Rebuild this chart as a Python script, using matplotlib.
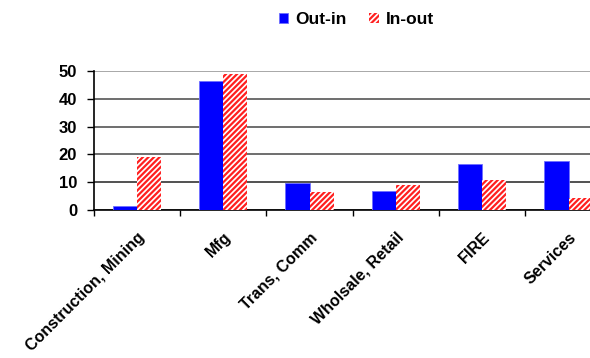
import matplotlib.pyplot as plt
import numpy as np

categories = ['Construction, Mining', 'Mfg', 'Trans, Comm',
              'Wholsale, Retail', 'FIRE', 'Services']
out_in = [1.4, 46.5, 9.8, 6.7, 16.4, 17.7]
in_out = [19.0, 48.9, 6.4, 9.0, 11.0, 4.3]
yticks = [0, 10, 20, 30, 40, 50]

plt.rcParams['font.family'] = ['Liberation Sans', 'DejaVu Sans']
plt.rcParams['hatch.linewidth'] = 1.6

fig = plt.figure(figsize=(5.9, 3.58), dpi=100)
ax = fig.add_axes([0.159, 0.413, 0.878, 0.389])

x = np.arange(len(categories)) + 0.5
w = 0.28
ax.bar(x - w / 2, out_in, w, color='#0000ff', edgecolor='#6f6fff',
       linewidth=0.6, label='Out-in', zorder=3)
ax.bar(x + w / 2, in_out, w, color='white', edgecolor='#ff2020',
       hatch='//////', linewidth=0, label='In-out', zorder=3)

ax.set_xlim(0, len(categories))
ax.set_ylim(0, 50)
ax.set_yticks(yticks)
ax.set_yticklabels([str(v) for v in yticks], fontsize=12, fontweight='bold')
ax.yaxis.grid(True, color='#555555', linewidth=1.2, zorder=0)
ax.set_axisbelow(True)
gl = ax.get_ygridlines()
gl[-1].set_color('#999999')
gl[1].set_color('#333333')

ax.set_xticks(np.arange(len(categories) + 1))
ax.set_xticklabels([])
ax.set_xticks(x, minor=True)
ax.set_xticklabels(categories, minor=True, rotation=45, ha='right',
                   rotation_mode='anchor', fontsize=11.5, fontweight='bold')
ax.tick_params(axis='x', which='minor', length=0, pad=14)
ax.tick_params(axis='x', which='major', length=4, width=1)
ax.tick_params(axis='y', length=5, width=1, pad=7)

for s in ['top', 'right']:
    ax.spines[s].set_visible(False)
ax.spines['left'].set_linewidth(1.2)
ax.spines['bottom'].set_linewidth(1.2)

fig.legend(loc='upper center', bbox_to_anchor=(0.604, 1.01), ncol=2,
           frameon=False, handlelength=0.55, handleheight=0.55,
           handletextpad=0.4, columnspacing=1.3,
           prop={'size': 12.5, 'weight': 'bold'})

fig.savefig('out.png', dpi=100)
